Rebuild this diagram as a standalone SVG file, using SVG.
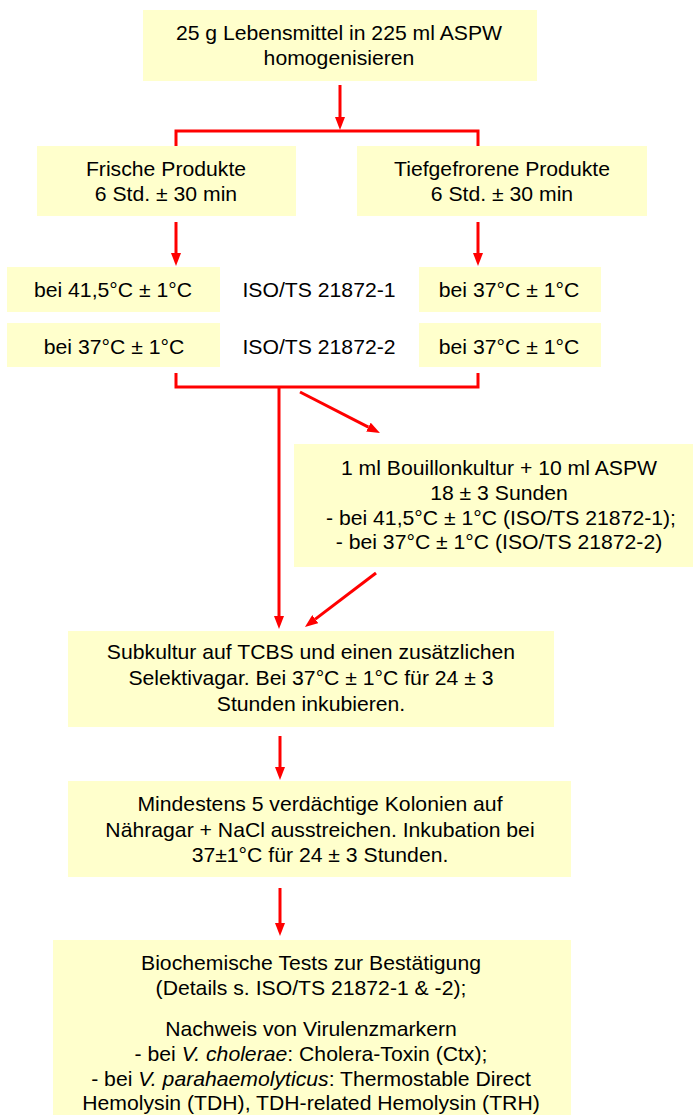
<svg xmlns="http://www.w3.org/2000/svg" width="693" height="1115" viewBox="0 0 693 1115">
<defs>
<style>
.box{fill:#FFFFCC;stroke:none}
text{font-family:"Liberation Sans",Arial,sans-serif;font-size:20px;fill:#000;text-anchor:middle;transform-box:fill-box;transform-origin:center;transform:scaleX(1.06)}
.ln{stroke:#FF0000;stroke-width:3;fill:none}
.it{font-style:italic}
</style>
<marker id="ah" markerWidth="13" markerHeight="10" refX="0" refY="5" orient="auto" markerUnits="userSpaceOnUse" viewBox="0 0 13 10">
<path d="M0,0 L13,5 L0,10 Z" fill="#FF0000"/>
</marker>
</defs>
<g id="n1"><rect class="box" x="143" y="10" width="394" height="71"/>
<text x="339" y="40">25 g Lebensmittel in 225 ml ASPW</text>
<text x="339" y="65">homogenisieren</text></g>
<g id="n2"><rect class="box" x="37" y="146" width="259" height="70"/>
<text x="166" y="176">Frische Produkte</text>
<text x="166" y="201">6 Std. ± 30 min</text></g>
<g id="n3"><rect class="box" x="357" y="146" width="290" height="70"/>
<text x="502" y="176">Tiefgefrorene Produkte</text>
<text x="502" y="201">6 Std. ± 30 min</text></g>
<g id="n4"><rect class="box" x="7" y="267" width="213" height="45"/>
<text x="113" y="297">bei 41,5°C ± 1°C</text></g>
<g id="n5"><text x="319" y="297">ISO/TS 21872-1</text></g>
<g id="n6"><rect class="box" x="419" y="267" width="182" height="45"/>
<text x="509" y="297">bei 37°C ± 1°C</text></g>
<g id="n7"><rect class="box" x="7" y="323" width="213" height="44"/>
<text x="114" y="354">bei 37°C ± 1°C</text></g>
<g id="n8"><text x="319" y="354">ISO/TS 21872-2</text></g>
<g id="n9"><rect class="box" x="419" y="323" width="182" height="44"/>
<text x="509" y="354">bei 37°C ± 1°C</text></g>
<g id="n10"><rect class="box" x="294" y="444" width="399" height="123"/>
<text x="499" y="475">1 ml Bouillonkultur + 10 ml ASPW</text>
<text x="499" y="500">18 ± 3 Sunden</text>
<text x="501" y="525">- bei 41,5°C ± 1°C (ISO/TS 21872-1);</text>
<text x="499" y="549">- bei 37°C ± 1°C (ISO/TS 21872-2)</text></g>
<g id="n11"><rect class="box" x="68" y="631" width="486" height="96"/>
<text x="311" y="659">Subkultur auf TCBS und einen zusätzlichen</text>
<text x="311" y="685">Selektivagar. Bei 37°C ± 1°C für 24 ± 3</text>
<text x="311" y="711">Stunden inkubieren.</text></g>
<g id="n12"><rect class="box" x="68" y="781" width="503" height="96"/>
<text x="320" y="811">Mindestens 5 verdächtige Kolonien auf</text>
<text x="320" y="837">Nähragar + NaCl ausstreichen. Inkubation bei</text>
<text x="320" y="862">37±1°C für 24 ± 3 Stunden.</text></g>
<g id="n13"><rect class="box" x="53" y="940" width="518" height="175"/>
<text x="311" y="970">Biochemische Tests zur Bestätigung</text>
<text x="311" y="995">(Details s. ISO/TS 21872-1 &amp; -2);</text>
<text x="311" y="1036">Nachweis von Virulenzmarkern</text>
<text x="311" y="1061">- bei <tspan class="it">V. cholerae</tspan>: Cholera-Toxin (Ctx);</text>
<text x="311" y="1086">- bei <tspan class="it">V. parahaemolyticus</tspan>: Thermostable Direct</text>
<text x="311" y="1110">Hemolysin (TDH), TDH-related Hemolysin (TRH)</text></g>
<g id="connectors">
<line class="ln" x1="340" y1="85" x2="340" y2="117" marker-end="url(#ah)"/>
<polyline class="ln" points="176,146 176,131 478,131 478,146"/>
<line class="ln" x1="176" y1="222" x2="176" y2="253" marker-end="url(#ah)"/>
<line class="ln" x1="478" y1="222" x2="478" y2="253" marker-end="url(#ah)"/>
<polyline class="ln" points="176,373 176,387 478,387 478,373"/>
<line class="ln" x1="279" y1="387" x2="279" y2="616" marker-end="url(#ah)"/>
<line class="ln" x1="300" y1="392" x2="368.4" y2="427.1" marker-end="url(#ah)"/>
<line class="ln" x1="376" y1="573" x2="315.3" y2="619.1" marker-end="url(#ah)"/>
<line class="ln" x1="280" y1="736" x2="280" y2="767" marker-end="url(#ah)"/>
<line class="ln" x1="280" y1="888" x2="280" y2="923" marker-end="url(#ah)"/>
</g>
</svg>
